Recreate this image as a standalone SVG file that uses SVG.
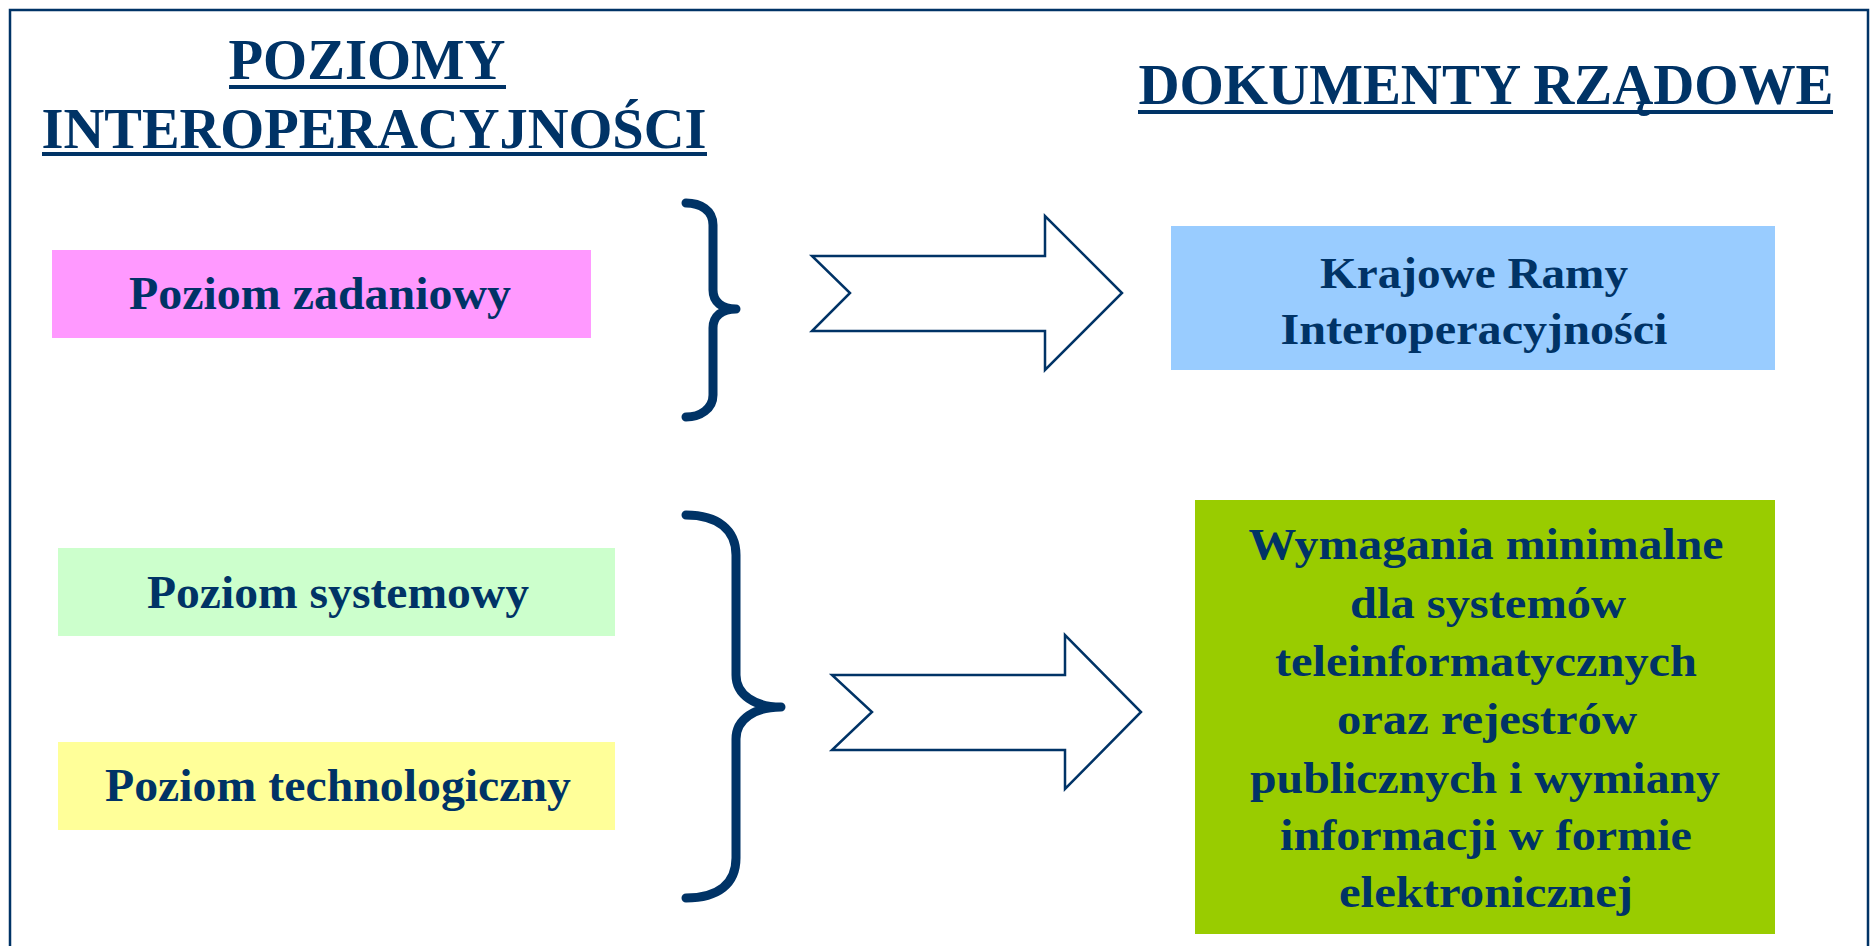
<svg xmlns="http://www.w3.org/2000/svg" width="1872" height="946" viewBox="0 0 1872 946">
<style>
.t{font-family:"Liberation Serif","Times New Roman",serif;font-weight:bold;fill:#003366;text-anchor:middle}
.h{font-size:58px}
.b{font-size:47px}
.g{font-size:45px}
.ul{fill:#003366}
.brace{fill:none;stroke:#003366;stroke-width:9;stroke-linecap:round;stroke-linejoin:round}
.arrow{fill:#ffffff;stroke:#003366;stroke-width:2.5;stroke-linejoin:miter}
</style>
<rect x="0" y="0" width="1872" height="946" fill="#ffffff"/>
<path d="M10 960 V10 H1868 V960" fill="none" stroke="#003366" stroke-width="2.5"/>
<g id="header-left">
<text class="t h" x="367" y="79" textLength="277" lengthAdjust="spacingAndGlyphs">POZIOMY</text>
<rect class="ul" x="229" y="85" width="277" height="4"/>
<text class="t h" x="374" y="148" textLength="665" lengthAdjust="spacingAndGlyphs">INTEROPERACYJNOŚCI</text>
<rect class="ul" x="42" y="152" width="665" height="4"/>
</g>
<g id="header-right">
<text class="t h" x="1486" y="104" textLength="695" lengthAdjust="spacingAndGlyphs">DOKUMENTY RZĄDOWE</text>
<rect class="ul" x="1138" y="110" width="695" height="4"/>
</g>
<g id="poziom-zadaniowy">
<rect x="52" y="250" width="539" height="88" fill="#FF99FF"/>
<text class="t b" x="320" y="309" textLength="382" lengthAdjust="spacingAndGlyphs">Poziom zadaniowy</text>
</g>
<g id="poziom-systemowy">
<rect x="58" y="548" width="557" height="88" fill="#CCFFCC"/>
<text class="t b" x="338" y="608" textLength="382" lengthAdjust="spacingAndGlyphs">Poziom systemowy</text>
</g>
<g id="poziom-technologiczny">
<rect x="58" y="742" width="557" height="88" fill="#FFFF99"/>
<text class="t b" x="338" y="801" textLength="466" lengthAdjust="spacingAndGlyphs">Poziom technologiczny</text>
</g>
<g id="krajowe-ramy">
<rect x="1171" y="226" width="604" height="144" fill="#99CCFF"/>
<text class="t g" x="1474" y="288" textLength="308" lengthAdjust="spacingAndGlyphs">Krajowe Ramy</text>
<text class="t g" x="1474" y="344" textLength="387" lengthAdjust="spacingAndGlyphs">Interoperacyjności</text>
</g>
<g id="wymagania-minimalne">
<rect x="1195" y="500" width="580" height="434" fill="#99CC00"/>
<text class="t g" x="1486" y="559" textLength="475" lengthAdjust="spacingAndGlyphs">Wymagania minimalne</text>
<text class="t g" x="1488" y="618" textLength="276" lengthAdjust="spacingAndGlyphs">dla systemów</text>
<text class="t g" x="1486" y="676" textLength="422" lengthAdjust="spacingAndGlyphs">teleinformatycznych</text>
<text class="t g" x="1487" y="734" textLength="300" lengthAdjust="spacingAndGlyphs">oraz rejestrów</text>
<text class="t g" x="1485" y="793" textLength="470" lengthAdjust="spacingAndGlyphs">publicznych i wymiany</text>
<text class="t g" x="1486" y="850" textLength="412" lengthAdjust="spacingAndGlyphs">informacji w formie</text>
<text class="t g" x="1486" y="907" textLength="294" lengthAdjust="spacingAndGlyphs">elektronicznej</text>
</g>
<g id="connectors">
<path class="brace" d="M686 203 C700 203 713 210 713 225 V290 C713 302 722 309 736 309 C722 309 713 316 713 328 V395 C713 409 700 417 686 417"/>
<path class="brace" d="M686 515 C718 515 736 530 736 555 V675 C736 695 755 707 781 707 C755 707 736 719 736 739 V858 C736 884 718 898 686 898"/>
<polygon class="arrow" points="812,256 1045,256 1045,216 1122,293 1045,370 1045,331 812,331 850,293"/>
<polygon class="arrow" points="832,675 1065,675 1065,635 1141,712 1065,789 1065,750 832,750 872,712"/>
</g>
</svg>
